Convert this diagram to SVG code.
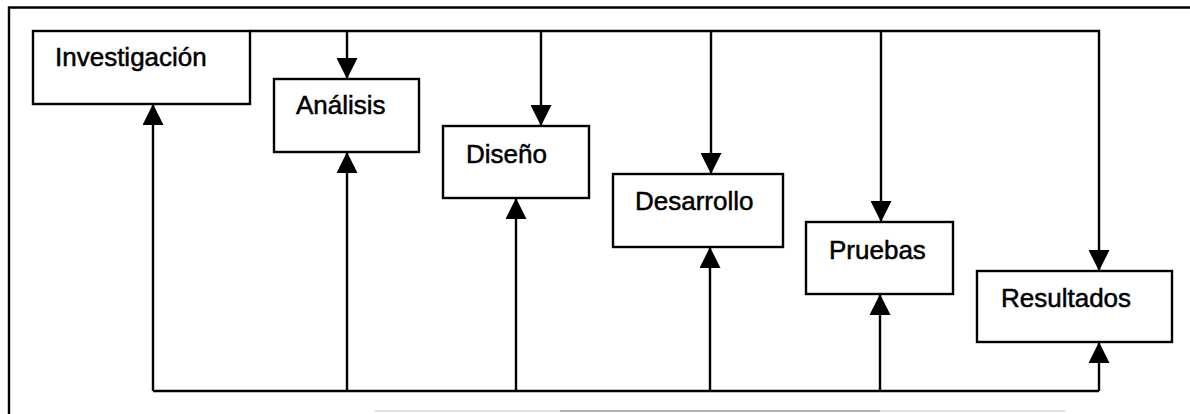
<svg xmlns="http://www.w3.org/2000/svg" width="1190" height="414" viewBox="0 0 1190 414">
<style>
.box{fill:#fff;stroke:#000;stroke-width:2.4}
.lbl{font-family:"Liberation Sans",Arial,sans-serif;font-size:26px;fill:#000;stroke:#000;stroke-width:0.5}
.ln{fill:none;stroke:#000;stroke-width:2.4}
</style>
<defs>
<marker id="ah" viewBox="0 0 20 20" refX="20" refY="10" markerWidth="21" markerHeight="21" markerUnits="userSpaceOnUse" orient="auto">
<path d="M0,0 L20,10 L0,20 z" fill="#000"/>
</marker>
</defs>
<rect width="1190" height="414" fill="#fff"/>
<g id="frame">
<path class="ln" d="M9,414 V7.5 H1190"/>
<line x1="375" y1="411" x2="1065" y2="411" stroke="#e0e0e0" stroke-width="2"/>
<line x1="560" y1="411" x2="880" y2="411" stroke="#b0b0b0" stroke-width="2"/>
</g>
<g id="connectors">
<path class="ln" d="M250,31 H1099 V271" marker-end="url(#ah)"/>
<line class="ln" x1="347" y1="31" x2="347" y2="79" marker-end="url(#ah)"/>
<line class="ln" x1="541" y1="31" x2="541" y2="126" marker-end="url(#ah)"/>
<line class="ln" x1="711" y1="31" x2="711" y2="174" marker-end="url(#ah)"/>
<line class="ln" x1="881" y1="31" x2="881" y2="222" marker-end="url(#ah)"/>
<path class="ln" d="M153,391 H1099"/>
<line class="ln" x1="153" y1="391" x2="153" y2="104" marker-end="url(#ah)"/>
<line class="ln" x1="347" y1="391" x2="347" y2="152" marker-end="url(#ah)"/>
<line class="ln" x1="516" y1="391" x2="516" y2="198" marker-end="url(#ah)"/>
<line class="ln" x1="710" y1="391" x2="710" y2="247" marker-end="url(#ah)"/>
<line class="ln" x1="880" y1="391" x2="880" y2="294" marker-end="url(#ah)"/>
<line class="ln" x1="1099" y1="391" x2="1099" y2="342" marker-end="url(#ah)"/>
</g>
<g id="investigacion">
<rect class="box" x="33" y="31" width="217" height="73"/>
<text class="lbl" x="55" y="66">Investigación</text>
</g>
<g id="analisis">
<rect class="box" x="274" y="79" width="145" height="73"/>
<text class="lbl" x="296" y="114">Análisis</text>
</g>
<g id="diseno">
<rect class="box" x="443" y="126" width="146" height="72"/>
<text class="lbl" x="466" y="163">Diseño</text>
</g>
<g id="desarrollo">
<rect class="box" x="613" y="174" width="170" height="73"/>
<text class="lbl" x="635" y="210">Desarrollo</text>
</g>
<g id="pruebas">
<rect class="box" x="806" y="222" width="147" height="72"/>
<text class="lbl" x="829" y="259">Pruebas</text>
</g>
<g id="resultados">
<rect class="box" x="977" y="271" width="195" height="71"/>
<text class="lbl" x="1001" y="307">Resultados</text>
</g>
</svg>
